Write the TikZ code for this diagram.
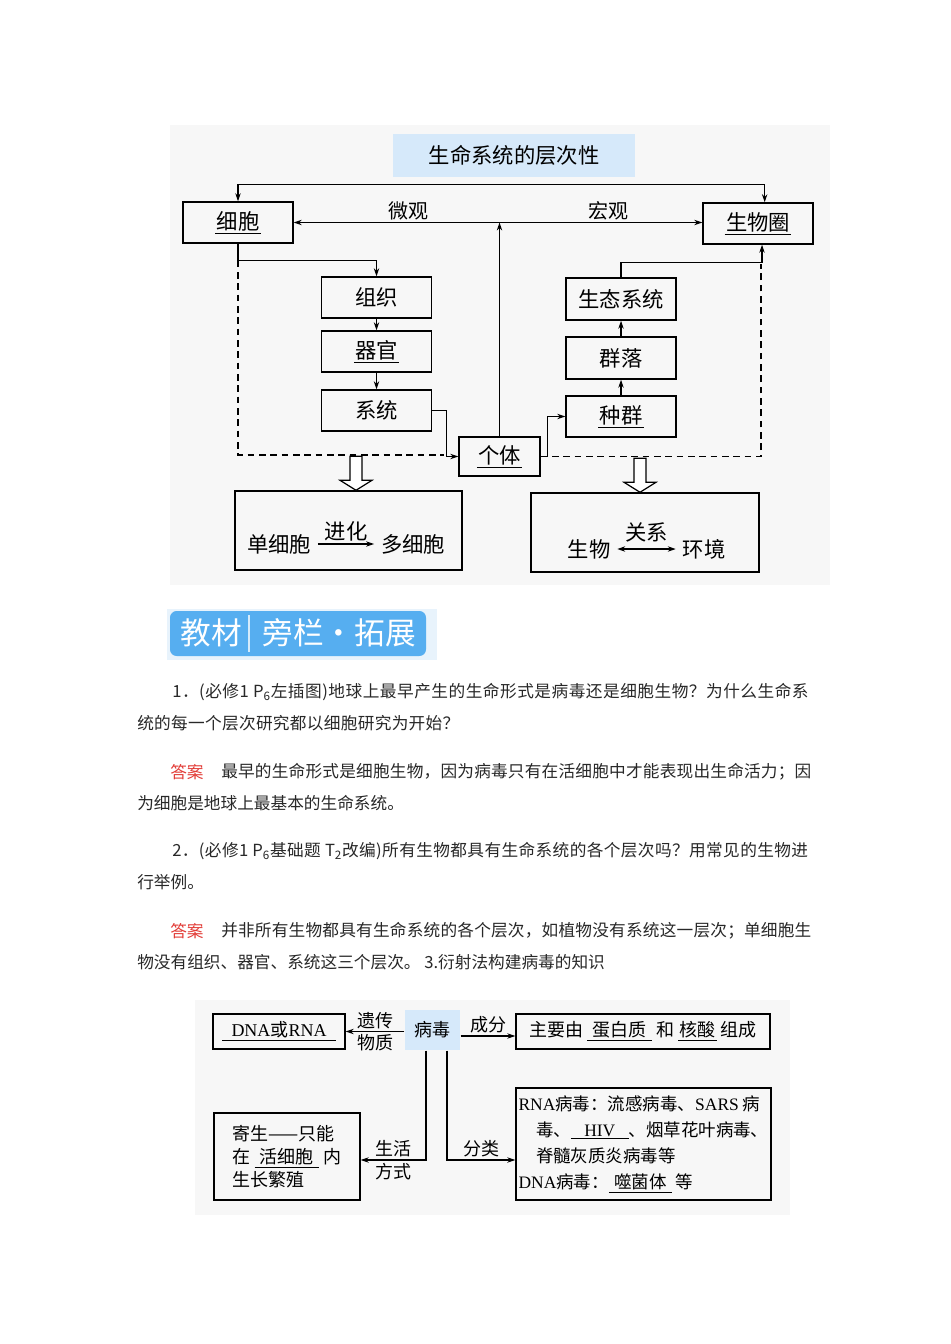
\documentclass[tikz,border=0pt]{standalone}
\usepackage{fontspec}
\setmainfont{Noto Sans CJK SC}
\newfontfamily\latin{Liberation Serif}
\usetikzlibrary{arrows.meta,calc}
\definecolor{titleblue}{RGB}{214,233,250}
\definecolor{bannerblue}{RGB}{86,174,240}
\definecolor{bannerpale}{RGB}{232,243,252}
\definecolor{ansred}{RGB}{226,60,55}
\definecolor{txtgray}{RGB}{40,40,40}
\newcommand\fsz[2]{\fontsize{#1}{#2}\selectfont}
\newcommand\uln[2][1pt]{\vtop{\hbox{\kern#1#2\kern#1}\kern1.5pt\hrule height .8pt}}
\newcommand\lt[1]{{\latin #1}}
\newcommand\spread[2]{{\addfontfeature{LetterSpace=#1}#2}}
\tikzset{
  box/.style   = {draw=black, line width=1.1pt, inner sep=0pt, font=\fsz{16}{19}},
  boxb/.style  = {draw=black, line width=1pt, inner sep=0pt, font=\fsz{13.5}{17.25}},
  sz/.style 2 args = {minimum width=#1*0.75pt, minimum height=#2*0.75pt},
  lab/.style   = {font=\fsz{15}{18}, inner sep=1.5pt},
  labb/.style  = {font=\fsz{13.5}{17}, inner sep=1.5pt},
  arr/.style   = {-{Stealth[length=6pt,width=4pt]}, draw=black, line width=0.9pt},
  darr/.style  = {{Stealth[length=6pt,width=4pt]}-{Stealth[length=6pt,width=4pt]}, draw=black, line width=0.9pt},
  dsh/.style   = {draw=black, dash pattern=on 5pt off 3.5pt, line width=0.9pt},
  hol/.style   = {draw=black, line width=0.9pt, fill=white},
  txt/.style   = {anchor=west, inner sep=0pt, font=\fsz{12.5}{15}, text=txtgray},
}
\begin{document}
\begin{tikzpicture}[x=0.75pt, y=-0.75pt]
  \useasboundingbox (0,0) rectangle (950,1344);
  \fill[white] (0,0) rectangle (950,1344);

  % levels of life
  \fill[black!3] (170,125) rectangle (830,585);
  \node[box, draw=none, fill=titleblue, sz={242}{43}] (title) at (514,155.5) {生命系统的层次性};
  \node[box, sz={110}{41}] (cell) at (238,222.5) {\uln{细胞}};
  \node[box, sz={110}{41}] (bio) at (758,223.5) {\uln{生物圈}};
  \node[box, sz={110}{41}] (tis) at (376.5,297.5) {组织};
  \node[box, sz={110}{41}] (org) at (376.5,351.5) {\uln{器官}};
  \node[box, sz={110}{41}] (sys) at (376.5,410.5) {系统};
  \node[box, sz={81}{39}] (ind) at (499.5,456.5) {\uln{个体}};
  \node[box, sz={110}{42}] (eco) at (621,299) {生态系统};
  \node[box, sz={110}{42}] (com) at (621,358) {群落};
  \node[box, sz={110}{41}] (pop) at (621,416.5) {\uln{种群}};

  \draw[darr] (cell.north) -- ++(0,-17) -| ([xshift=5]bio.north);
  \draw[darr] (cell.east) -- node[lab, above, pos=.28] {微观} node[lab, above, pos=.77] {宏观} (cell.east -| bio.west);
  \draw[arr] (ind.north) -- (ind.north |- cell.east);
  \draw[arr] (cell.south) -- ++(0,17) -| (tis.north);
  \draw[arr] (tis.south) -- (org.north);
  \draw[arr] (org.south) -- (sys.north);
  \draw[dsh] ($(cell.south)+(0,17)$) |- ($(ind.west)+(-14,-1.5)$);
  \draw[arr] (sys.east) -- ++(14,0) |- (ind.west);
  \draw[arr] (ind.east) -- ++(7,0) |- (pop.west);
  \draw[arr] (pop.north) -- (com.south);
  \draw[arr] (com.north) -- (eco.south);
  \draw[arr] (eco.north) -- ++(0,-15) -| ([xshift=3]bio.south);
  \draw[dsh] (ind.east) -| ($(bio.south)+(3,19)$);

  \node[box, sz={227}{79}] (uni) at (348.5,530.5) {};
  \node[box, sz={228}{79}] (rel) at (645,532.5) {};
  \foreach \b/\dx in {uni/7.5, rel/-5}{
    \draw[hol] ($(\b.north)+(\dx,0)$) -- ++(16,-10) -- ++(-10,0) -- ++(0,-24) -- ++(-12,0) -- ++(0,24) -- ++(-10,0) -- cycle;
  }
  \node[font=\fsz{16}{19}, inner sep=5pt] (u1) at (279,544) {单细胞};
  \node[font=\fsz{16}{19}, inner sep=5pt] (u2) at (413,544) {多细胞};
  \draw[arr] (u1) -- node[lab, above, font=\fsz{16}{19}] {进化} (u2);
  \node[font=\fsz{16}{19}, inner sep=5pt] (r1) at (589,549) {生物};
  \node[font=\fsz{16}{19}, inner sep=5pt] (r2) at (704,549) {环境};
  \draw[darr] (r1) -- node[lab, above, font=\fsz{16}{19}, yshift=3pt] {关系} (r2);

  % banner
  \fill[bannerpale] (167,609) rectangle (437,660);
  \node[fill=bannerblue, rounded corners=5pt, sz={256}{45}] (banner) at (298,633.5) {};
  \node[text=white, font=\fsz{23}{27}] (bn1) at (211,633) {教材};
  \node[text=white, font=\fsz{23}{27}] (bn2) at (339,633) {旁栏·拓展};
  \draw[white!75!bannerblue, line width=1pt] (249,615) -- (249,652);

  % questions
  \node[txt] (q1a) at (172,692) {\spread{3.0}{1．(必修1 P\textsubscript{6}左插图)地球上最早产生的生命形式是病毒还是细胞生物？为什么生命系}};
  \node[txt] (q1b) at (137,723) {\spread{1.8}{统的每一个层次研究都以细胞研究为开始？}};
  \node[txt, text=ansred] (a1) at (170,772) {答案};
  \node[txt] (a1a) at (221,772) {\spread{1.2}{最早的生命形式是细胞生物，因为病毒只有在活细胞中才能表现出生命活力；因}};
  \node[txt] (a1b) at (137,803) {为细胞是地球上最基本的生命系统。};
  \node[txt] (q2a) at (172,851) {\spread{2.3}{2．(必修1 P\textsubscript{6}基础题 T\textsubscript{2}改编)所有生物都具有生命系统的各个层次吗？用常见的生物进}};
  \node[txt] (q2b) at (137,882) {行举例。};
  \node[txt, text=ansred] (a2) at (170,931) {答案};
  \node[txt] (a2a) at (221,931) {\spread{1.2}{并非所有生物都具有生命系统的各个层次，如植物没有系统这一层次；单细胞生}};
  \node[txt] (a2b) at (137,962) {物没有组织、器官、系统这三个层次。 3.衍射法构建病毒的知识};

  % virus
  \fill[black!3] (195,1000) rectangle (790,1215);
  \node[boxb, draw=none, fill=titleblue, sz={55}{40}] (virus) at (432.5,1030) {病毒};
  \node[boxb, sz={132}{35}] (dna) at (279,1031.5) {\uln[7pt]{\lt{DNA}或\lt{RNA}}};
  \node[boxb, sz={254}{35}] (comp) at (643,1031.5) {主要由 \uln[4pt]{蛋白质} 和 \uln{核酸} 组成};
  \node[boxb, sz={146}{87}, align=left] (para) at (287,1156.5) {寄生——只能\\在 \uln[4pt]{活细胞} 内\\生长繁殖};
  \node[boxb, sz={255}{112}, align=left, font=\fsz{13.1}{19.5}] (cls) at (643.5,1144) {\lt{RNA}病毒：流感病毒、\lt{SARS} 病\\\hspace*{1em}毒、\uln[10pt]{\lt{HIV}}、烟草花叶病毒、\\\hspace*{1em}脊髓灰质炎病毒等\\\lt{DNA}病毒：\uln[4pt]{噬菌体} 等};

  \draw[arr] (virus.west |- dna.east) -- node[labb, align=center] {遗传\\物质} (dna.east);
  \draw[arr] ($(virus.east)+(0,6)$) -- node[labb, above] {成分} ($(comp.west)+(0,4.5)$);
  \draw[arr] ($(virus.south)+(-6.5,0)$) |- node[labb, align=center, pos=.75] {生活\\方式} ($(para.east)+(0,3.5)$);
  \draw[arr] ($(virus.south)+(14.5,0)$) |- node[labb, above, pos=.75] {分类} ($(cls.west)+(0,16)$);
\end{tikzpicture}
\end{document}
